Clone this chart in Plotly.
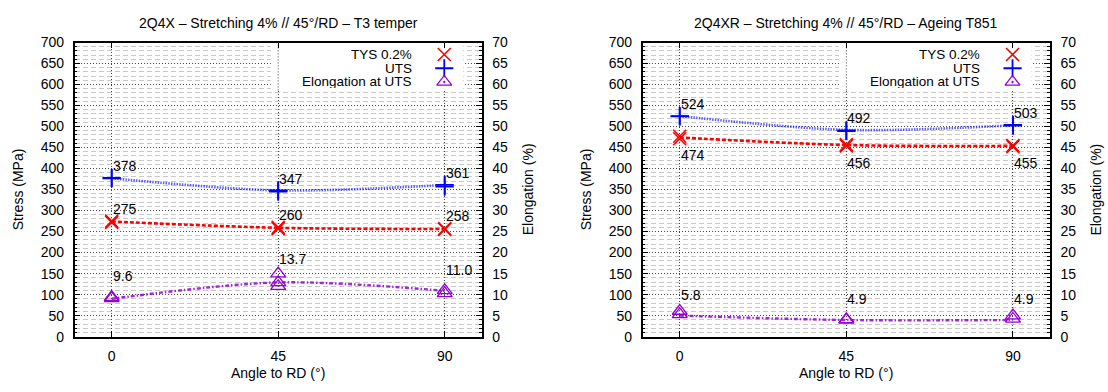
import plotly.graph_objects as go

# ---------------- data ----------------
angles = [0, 45, 90]
x_tick_vals = [0, 45, 90]
legend_names = ["TYS 0.2%", "UTS", "Elongation at UTS"]

# Panel 1 : 2Q4X T3
t3_title = "2Q4X – Stretching 4% // 45°/RD – T3 temper"
t3_tys_pts = [[272, 275], [257, 260], [255, 257]]
t3_uts_pts = [[377, 378], [345, 348], [357, 361]]
t3_elong_pts = [[9.1, 9.4], [15.0, 12.9, 12.0], [11.0, 10.3]]
t3_tys_curve = [274, 259, 256]
t3_uts_curve = [377, 348, 361]
t3_elong_curve = [9.0, 12.9, 10.9]
t3_tys_mean = [275, 260, 258]
t3_uts_mean = [378, 347, 361]
t3_elong_mean = [9.6, 13.7, 11.0]

# Panel 2 : 2Q4XR T851
t851_title = "2Q4XR – Stretching 4% // 45°/RD – Ageing T851"
t851_tys_pts = [[471, 477], [454, 457], [452, 455]]
t851_uts_pts = [[524, 525], [489, 491], [502, 504]]
t851_elong_pts = [[6.1, 5.3], [4.0, 4.1], [5.0, 4.2]]
t851_tys_curve = [474, 456, 454]
t851_uts_curve = [525, 492, 503]
t851_elong_curve = [5.0, 3.95, 3.95]
t851_tys_mean = [474, 456, 455]
t851_uts_mean = [524, 492, 503]
t851_elong_mean = [5.8, 4.9, 4.9]

# ---------------- style ----------------
RED = "#ff0000"
BLUE = "#0000ff"
PURPLE = "#9400d3"
FONT = "Liberation Sans, Arial, Helvetica, sans-serif"
FS = 14
W, H = 1108, 392

panels = [
    dict(title=t3_title, tys=t3_tys_pts, uts=t3_uts_pts, el=t3_elong_pts,
         tys_c=t3_tys_curve, uts_c=t3_uts_curve, el_c=t3_elong_curve,
         tys_m=t3_tys_mean, uts_m=t3_uts_mean, el_m=t3_elong_mean,
         x="x", y="y", y2="y2", lx="x3", ly="y5",
         dom=[74.7 / W, 481.7 / W], tys_shift=12, el_shift=20),
    dict(title=t851_title, tys=t851_tys_pts, uts=t851_uts_pts, el=t851_elong_pts,
         tys_c=t851_tys_curve, uts_c=t851_uts_curve, el_c=t851_elong_curve,
         tys_m=t851_tys_mean, uts_m=t851_uts_mean, el_m=t851_elong_mean,
         x="x2", y="y3", y2="y4", lx="x4", ly="y6",
         dom=[642.7 / W, 1050.0 / W], tys_shift=-18, el_shift=17),
]

ydom = [1 - 342.6 / H, 1 - 36.0 / H]


def flat(pts):
    xs = [a for a, grp in zip(angles, pts) for _ in grp]
    ys = [v for grp in pts for v in grp]
    return xs, ys


fig = go.Figure()
annotations = []
shapes = []

for p in panels:
    # curves
    fig.add_trace(go.Scatter(x=angles, y=p["tys_c"], mode="lines", xaxis=p["x"], yaxis=p["y"],
                             line=dict(color=RED, width=2.6, dash="4px,2px", shape="spline", smoothing=0.9),
                             showlegend=False, hoverinfo="skip"))
    fig.add_trace(go.Scatter(x=angles, y=p["uts_c"], mode="lines", xaxis=p["x"], yaxis=p["y"],
                             line=dict(color="rgba(40,40,255,0.75)", width=2.6, dash="1.5px,1.2px", shape="spline", smoothing=0.9),
                             showlegend=False, hoverinfo="skip"))
    # points
    xs, ys = flat(p["tys"])
    fig.add_trace(go.Scatter(x=xs, y=ys, mode="markers", xaxis=p["x"], yaxis=p["y"],
                             marker=dict(symbol="x-thin-open", size=13, color=RED, line=dict(color=RED, width=1.6)),
                             showlegend=False))
    xs, ys = flat(p["uts"])
    fig.add_trace(go.Scatter(x=xs, y=ys, mode="markers", xaxis=p["x"], yaxis=p["y"],
                             marker=dict(symbol="cross-thin-open", size=13, color=BLUE, line=dict(color=BLUE, width=1.8)),
                             showlegend=False))
    # elongation on right axis
    fig.add_trace(go.Scatter(x=angles, y=p["el_c"], mode="lines", xaxis=p["x"], yaxis=p["y2"],
                             line=dict(color="rgba(148,0,211,0.85)", width=2.4, dash="4px,2px,1.5px,2px", shape="spline", smoothing=0.9),
                             showlegend=False, hoverinfo="skip"))
    xs, ys = flat(p["el"])
    fig.add_trace(go.Scatter(x=xs, y=ys, mode="markers", xaxis=p["x"], yaxis=p["y2"],
                             marker=dict(symbol="triangle-up-open", size=13, color=PURPLE, line=dict(color=PURPLE, width=1.3)),
                             showlegend=False))

    # value labels
    for a, v in zip(angles, p["uts_m"]):
        annotations.append(dict(x=a, y=v, xref=p["x"], yref=p["y"], text=f"{v:.0f}", showarrow=False,
                                xanchor="left", yanchor="middle", yshift=12, xshift=-1,
                                font=dict(family=FONT, size=FS, color="black")))
    for a, v in zip(angles, p["tys_m"]):
        annotations.append(dict(x=a, y=v, xref=p["x"], yref=p["y"], text=f"{v:.0f}", showarrow=False,
                                xanchor="left", yanchor="middle", yshift=p["tys_shift"], xshift=-1,
                                font=dict(family=FONT, size=FS, color="black")))
    for a, v in zip(angles, p["el_m"]):
        annotations.append(dict(x=a, y=v, xref=p["x"], yref=p["y2"], text=f"{v:.1f}", showarrow=False,
                                xanchor="left", yanchor="middle", yshift=p["el_shift"], xshift=-1,
                                font=dict(family=FONT, size=FS, color="black")))

    # key box
    shapes.append(dict(type="rect", xref=p["x"], yref=p["y"], x0=43, x1=95, y0=586, y1=700,
                       fillcolor="white", line=dict(width=0), layer="between"))
    shapes.append(dict(type="line", xref=p["x"], yref=p["y"], x0=45, x1=45, y0=586, y1=700,
                       line=dict(color="#444444", width=1, dash="1px,2px"), layer="between"))
    key_rows = [0.9592, 0.9126, 0.8659]
    for name, ry in zip(legend_names, key_rows):
        annotations.append(dict(x=0.8337, y=ry, xref=p["x"] + " domain", yref=p["y"] + " domain", text=name,
                                showarrow=False, xanchor="right", yanchor="middle", height=13,
                                font=dict(family=FONT, size=13.5, color="black")))
    fig.add_trace(go.Scatter(x=[0.908], y=[key_rows[0]], mode="markers", xaxis=p["lx"], yaxis=p["ly"],
                             marker=dict(symbol="x-thin-open", size=13, color=RED, line=dict(color=RED, width=1.6)),
                             showlegend=False, hoverinfo="skip"))
    fig.add_trace(go.Scatter(x=[0.908], y=[key_rows[1]], mode="markers", xaxis=p["lx"], yaxis=p["ly"],
                             marker=dict(symbol="cross-thin-open", size=13, color=BLUE, line=dict(color=BLUE, width=1.8)),
                             showlegend=False, hoverinfo="skip"))
    fig.add_trace(go.Scatter(x=[0.908], y=[key_rows[2]], mode="markers", xaxis=p["lx"], yaxis=p["ly"],
                             marker=dict(symbol="triangle-up-open-dot", size=13, color=PURPLE, line=dict(color=PURPLE, width=1.3)),
                             showlegend=False, hoverinfo="skip"))

    # titles and axis titles
    cx = (p["dom"][0] + p["dom"][1]) / 2
    annotations.append(dict(x=cx, y=1 - 16 / H, xref="paper", yref="paper", text=p["title"], showarrow=False,
                            xanchor="center", yanchor="middle", font=dict(family=FONT, size=FS, color="black")))
    annotations.append(dict(x=cx, y=1 - 381 / H, xref="paper", yref="paper", text="Angle to RD (°)", showarrow=False,
                            xanchor="center", yanchor="middle", font=dict(family=FONT, size=FS, color="black")))
    annotations.append(dict(x=p["dom"][0] - 57 / W, y=0.5, xref="paper", yref=p["y"] + " domain", text="Stress (MPa)",
                            showarrow=False, textangle=-90, xanchor="center", yanchor="middle",
                            font=dict(family=FONT, size=FS, color="black")))
    annotations.append(dict(x=p["dom"][1] + 46 / W, y=0.5, xref="paper", yref=p["y"] + " domain", text="Elongation (%)",
                            showarrow=False, textangle=-90, xanchor="center", yanchor="middle",
                            font=dict(family=FONT, size=FS, color="black")))

tickfont = dict(family=FONT, size=FS, color="black")


def xaxis_cfg(dom, anchor):
    return dict(domain=dom, anchor=anchor, range=[-10, 100], tickvals=x_tick_vals, ticks="inside", ticklen=6,
                tickwidth=1, tickcolor="black", showline=True, linecolor="black", linewidth=1.5, mirror="ticks",
                showgrid=True, gridcolor="#444444", gridwidth=1, griddash="1px,2px", zeroline=False,
                tickfont=tickfont, ticklabelstandoff=6, fixedrange=True)


def yaxis_cfg(anchor):
    return dict(domain=ydom, anchor=anchor, range=[0, 700], dtick=50, tick0=0, ticks="inside", ticklen=6,
                tickwidth=1, tickcolor="black", showline=True, linecolor="black", linewidth=1.5,
                showgrid=True, gridcolor="#444444", gridwidth=1, griddash="1px,2px", zeroline=False,
                minor=dict(dtick=10, ticks="inside", ticklen=3, tickcolor="black", showgrid=True,
                           gridcolor="#c8c8c8", gridwidth=1, griddash="5px,3px"),
                tickfont=tickfont, ticklabelstandoff=6, fixedrange=True)


def y2axis_cfg(anchor, over):
    return dict(overlaying=over, anchor=anchor, side="right", range=[0, 70], dtick=5, tick0=0, ticks="inside",
                ticklen=6, tickwidth=1, tickcolor="black", showline=True, linecolor="black", linewidth=1.5,
                showgrid=False, zeroline=False,
                minor=dict(dtick=1, ticks="inside", ticklen=3, tickcolor="black", showgrid=False),
                tickfont=tickfont, ticklabelstandoff=6, fixedrange=True)


helper = dict(visible=False, range=[0, 1], fixedrange=True, showgrid=False, zeroline=False)

fig.update_layout(
    width=W, height=H,
    margin=dict(l=0, r=0, t=0, b=0),
    paper_bgcolor="white", plot_bgcolor="white",
    showlegend=False,
    xaxis=xaxis_cfg(panels[0]["dom"], "y"),
    yaxis=yaxis_cfg("x"),
    yaxis2=y2axis_cfg("x", "y"),
    xaxis2=xaxis_cfg(panels[1]["dom"], "y3"),
    yaxis3=yaxis_cfg("x2"),
    yaxis4=y2axis_cfg("x2", "y3"),
    xaxis3=dict(helper, overlaying="x"),
    yaxis5=dict(helper, overlaying="y"),
    xaxis4=dict(helper, overlaying="x2"),
    yaxis6=dict(helper, overlaying="y3"),
    annotations=annotations,
    shapes=shapes,
)

fig.write_html("out.html", config={"displayModeBar": False},
               post_script="document.body.style.margin='0';document.body.style.padding='0';")
